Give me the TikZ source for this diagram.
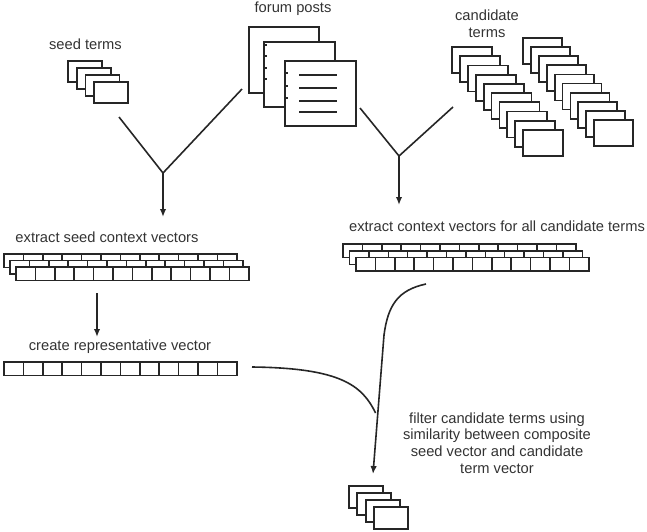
\documentclass[tikz,border=0pt]{standalone}
\usepackage{fontspec}
\setmainfont{Liberation Sans}
\usepackage{tikz}
\usetikzlibrary{arrows.meta}

\tikzset{
  card/.style={draw=black!85, fill=white, line width=1.8pt},
  cell/.style={draw=black!85, fill=white, line width=1.5pt},
  link/.style={draw=black!85, line width=1.6pt},
  flow/.style={link, -{Latex[length=8pt,width=6.5pt]}},
  lbl/.style={text=black!80, font=\fontsize{14.7}{16.8}\selectfont, inner sep=0pt, align=center}
}

% a row of twelve cells, left top corner at #1,#2
\newcommand{\cellrow}[2]{%
  \foreach \k in {0,...,11}
    \draw[cell] ({#1+19.4*\k},#2) rectangle +(19.4,13.5);
}

\begin{document}
\begin{tikzpicture}[x=1pt, y=-1pt]
\useasboundingbox (0,0) rectangle (647,531);

% seed terms
\node[lbl] (seedlbl) at (85.5,44) {seed terms};
\foreach \i in {0,...,3}
  \draw[card] ({68+8.7*\i},{61+7*\i}) rectangle +(34,21);

% forum posts
\node[lbl] (postlbl) at (293,9) {forum posts};
\draw[card] (249,27) rectangle (319,93);
\draw[card] (264,42) rectangle (335,107);
\foreach \y in {45,56,68,79}
  \draw[link, line width=1.2pt] (264,\y) -- +(2.5,0);
\draw[card] (285,61) rectangle (356,126);
\foreach \y in {73,86,98}
  \draw[link, line width=1.2pt] (285,\y) -- +(2.5,0);
\foreach \y in {75,88,101,112}
  \draw[link] (299,\y) -- (337,\y);

% candidate terms
\node[lbl] (candlbl) at (487,23.5) {candidate\\terms};
\foreach \i in {0,...,9} {
  \draw[card] ({452+7.9*\i},{47+9.2*\i}) rectangle +(40,26);
}
\foreach \i in {0,...,9} {
  \draw[card] ({523+7.9*\i},{38+9.1*\i}) rectangle +(39,26);
}

% first merge
\coordinate (seedend) at (119,117);
\coordinate (postl) at (242,89);
\coordinate (joina) at (163,173);
\coordinate (ctxa) at (163,217);
\draw[link] (seedend) -- (joina) -- (postl);
\draw[flow] (joina) -- (ctxa);

% second merge
\coordinate (postr) at (360,108);
\coordinate (candend) at (453,107);
\coordinate (joinb) at (399,156);
\coordinate (ctxb) at (399,205);
\draw[link] (postr) -- (joinb) -- (candend);
\draw[flow] (joinb) -- (ctxb);

% seed context vectors
\node[lbl] (seedvec) at (107,237) {extract seed context vectors};
\cellrow{4}{254}
\cellrow{10}{260.5}
\cellrow{16}{267}

\coordinate (seedvecout) at (97,293);
\coordinate (repin) at (97,337);
\draw[flow] (seedvecout) -- (repin);

% representative vector
\node[lbl] (replbl) at (120,347) {create representative vector};
\cellrow{4}{362}

% candidate context vectors
\node[lbl] (candvec) at (497,226) {extract context vectors for all candidate terms};
\cellrow{343}{244}
\cellrow{349.5}{251}
\cellrow{356}{257.5}

% filtering
\coordinate (candvecout) at (426,284);
\coordinate (bend) at (384,335);
\coordinate (merge) at (375.6,413);
\coordinate (filtered) at (373,474);
\coordinate (repout) at (252,367);
\draw[flow] (candvecout) .. controls (398,290) and (388,305) .. (bend) -- (filtered);
\draw[link] (repout) .. controls (340,368) and (362,385) .. (merge);

\node[lbl] (filterlbl) at (497,443) {filter candidate terms using\\similarity between composite\\seed vector and candidate\\term vector};

% resulting terms
\foreach \i in {0,...,3}
  \draw[card] ({349+8.3*\i},{486+7*\i}) rectangle +(34,22);

\end{tikzpicture}
\end{document}
